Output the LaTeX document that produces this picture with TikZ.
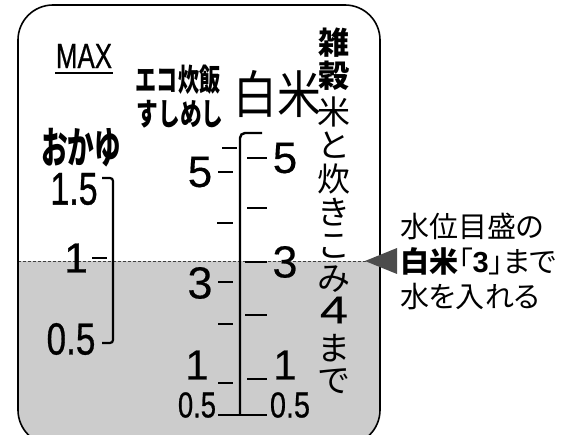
\documentclass[tikz,border=0pt]{standalone}
\usepackage{fontspec}
\usepackage{graphicx}
\newfontfamily\jp{Noto Sans CJK JP}
\newfontfamily\jpp[RawFeature=+palt]{Noto Sans CJK JP}
\newfontfamily\nmf[FakeBold=0.8]{Liberation Sans}
\newfontfamily\nm[FakeBold=0.3]{Liberation Sans}
\newfontfamily\nmb{Liberation Sans}
\newcommand\fsz[1]{\fontsize{#1}{#1}\selectfont}
\newcommand\sx[2]{\scalebox{#1}[1]{#2}}
\tikzset{
  every node/.style={inner sep=0pt, outer sep=0pt},
  frameline/.style={line width=1.6pt, black},
  water/.style={fill=black!20},
  waterline/.style={densely dashed, line width=0.8pt, black!75},
  scaleline/.style={line width=2.4pt, black, line cap=butt},
  tick/.style={line width=2.2pt, black},
  marker/.style={fill=black!70},
}
\begin{document}
\begin{tikzpicture}[x=1pt,y=-1pt]
\useasboundingbox (0,0) rectangle (570,435);
\begin{scope}
  \clip (0,0) rectangle (570,435);
  \begin{scope}
    \clip[rounded corners=35pt] (18,5) rectangle (380,445);
    \fill[water] (18,261) rectangle (380,445);
  \end{scope}
  \draw[waterline] (18,261) -- (380,261);
  \draw[frameline, rounded corners=35pt] (18,5) rectangle (380,445);
\end{scope}

% marker triangle
\fill[marker] (365,261) -- (397,248) -- (397,274) -- cycle;

% MAX / okayu column
\node (max) at (84,56) {\nmf\fsz{35}\sx{0.74}{MAX}};
\draw[line width=2pt] (55,73) -- (113,73);
\node (okayu) at (81,148) {\jp\bfseries\fsz{43}\sx{0.62}{おかゆ}};
\node (l15) at (74,189) {\nmf\fsz{46}\sx{0.74}{1.5}};
\node (l1) at (76,258) {\nmf\fsz{42}1};
\node (l05) at (71,339) {\nmf\fsz{45}\sx{0.78}{0.5}};
\draw[tick, rounded corners=3pt] (102,178) -- (113,178) -- (113,343) -- (102,343);
\draw[tick] (92,258) -- (107,258);

% eco / sushi labels
\node (eco) at (178,80) {\jp\bfseries\fsz{31}\sx{0.68}{エコ炊飯}};
\node (sushi) at (180,114) {\jp\bfseries\fsz{31}\sx{0.7}{すしめし}};
\node (hakumai) at (277,94) {\jp\fsz{51}\sx{0.86}{白米}};

% main scale
\draw[scaleline, rounded corners=5pt] (262,133) -- (240,133) -- (240,415);
\draw[tick] (218,415) -- (267,415);
\draw[tick] (222,148) -- (237,148);
\draw[tick] (218,172) -- (233,172);
\draw[tick] (217,223) -- (233,223);
\draw[tick] (218,282) -- (233,282);
\draw[tick] (218,324) -- (233,324);
\draw[tick] (218,383) -- (233,383);
\draw[tick] (247,158) -- (267,158);
\draw[tick] (247,208) -- (267,208);
\draw[tick] (245,262) -- (267,262);
\draw[tick] (245,315) -- (267,315);
\draw[tick] (247,379) -- (267,379);

\node (a5) at (200,172) {\nm\fsz{44}5};
\node (a3) at (200,283) {\nm\fsz{45}3};
\node (a1) at (197,365) {\nm\fsz{42}1};
\node (a05) at (197,405) {\nmf\fsz{36}\sx{0.76}{0.5}};
\node (b5) at (285,158) {\nm\fsz{44}5};
\node (b3) at (285,262) {\nm\fsz{45}3};
\node (b1) at (285,365) {\nm\fsz{42}1};
\node (b05) at (290,405) {\nmf\fsz{36}\sx{0.8}{0.5}};

% vertical text
\node (v1) at (334,43) {\jp\bfseries\fsz{31}雑};
\node (v2) at (334,76) {\jp\bfseries\fsz{31}穀};
\node (v3) at (334,112) {\jp\fsz{33}米};
\node (v4) at (334,145.5) {\jp\fsz{33}と};
\node (v5) at (334,179) {\jp\fsz{33}炊};
\node (v6) at (334,212.5) {\jp\fsz{33}き};
\node (v7) at (334,246) {\jp\fsz{33}こ};
\node (v8) at (334,279) {\jp\fsz{33}み};
\node (v9) at (334,310) {\nm\fsz{39}\sx{1.3}{4}};
\node (v10) at (334,348.5) {\jp\fsz{33}ま};
\node (v11) at (334,381.5) {\jp\fsz{33}で};

% right note
\node[anchor=west] (n1) at (400,226) {\jpp\fsz{29}水位目盛の};
\node[anchor=west] (n2) at (400,261) {\jpp\fsz{29}{\bfseries 白米}「{\nmb\bfseries 3}」まで};
\node[anchor=west] (n3) at (400,297) {\jpp\fsz{29}水を入れる};
\end{tikzpicture}
\end{document}
